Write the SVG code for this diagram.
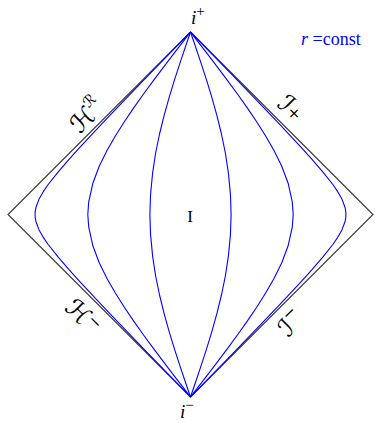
<svg xmlns="http://www.w3.org/2000/svg" width="385" height="423" viewBox="0 0 385 423">
<style>
.edge{fill:none;stroke:#333;stroke-width:1.1}
.rc{fill:none;stroke:#0000ff;stroke-width:1.1;stroke-linejoin:round}
.lab{font-family:"Liberation Serif","DejaVu Serif",serif;fill:#000}
.blue{font-family:"Liberation Serif","DejaVu Serif",serif;fill:#0000ff}
.cal{font-family:"DejaVu Serif","DejaVu Sans",serif;fill:#000}
</style>
<rect width="385" height="423" fill="#fff"/>
<g id="diamond">
<polygon class="edge" points="190.5,32 373,214.5 190.5,397 8,214.5"/>
</g>
<g id="connectors">
<polyline class="rc" points="190.5,397 186.3,384.74 180.45,367.36 174.74,349.83 169.3,332.04 164.2,313.9 159.6,295.25 155.63,275.99 152.59,255.8 150.56,234.59 149.9,214.5 150.56,194.41 152.59,173.2 155.63,153.01 159.6,133.75 164.2,115.1 169.3,96.96 174.74,79.17 180.45,61.64 186.3,44.26 190.5,32"/>
<polyline class="rc" points="190.5,397 194.7,384.74 200.55,367.36 206.26,349.83 211.7,332.04 216.8,313.9 221.4,295.25 225.37,275.99 228.41,255.8 230.44,234.59 231.1,214.5 230.44,194.41 228.41,173.2 225.37,153.01 221.4,133.75 216.8,115.1 211.7,96.96 206.26,79.17 200.55,61.64 194.7,44.26 190.5,32"/>
<polyline class="rc" points="190.5,397 183.33,387.71 173.22,374.58 163.17,361.4 153.2,348.13 143.37,334.72 133.72,321.14 124.34,307.28 115.34,293.05 106.87,278.28 99.22,262.69 92.87,245.81 88.68,226.77 87.8,214.5 88.68,202.23 92.87,183.19 99.22,166.31 106.87,150.72 115.34,135.95 124.34,121.72 133.72,107.86 143.37,94.28 153.2,80.87 163.17,67.6 173.22,54.42 183.33,41.29 190.5,32"/>
<polyline class="rc" points="190.5,397 197.67,387.71 207.78,374.58 217.83,361.4 227.8,348.13 237.63,334.72 247.28,321.14 256.66,307.28 265.66,293.05 274.13,278.28 281.78,262.69 288.13,245.81 292.32,226.77 293.2,214.5 292.32,202.23 288.13,183.19 281.78,166.31 274.13,150.72 265.66,135.95 256.66,121.72 247.28,107.86 237.63,94.28 227.8,80.87 217.83,67.6 207.78,54.42 197.67,41.29 190.5,32"/>
<polyline class="rc" points="190.5,397 170.93,376.87 148.03,353.3 125.2,329.66 102.49,305.9 80.03,281.88 69,269.67 58.24,257.21 47.99,244.22 43.27,237.32 39.07,229.91 35.92,221.44 35.22,217.49 35.07,214.5 35.22,211.51 35.92,207.56 39.07,199.09 43.27,191.68 47.99,184.78 58.24,171.79 69,159.33 80.03,147.12 102.49,123.1 125.2,99.34 148.03,75.7 170.93,52.13 190.5,32"/>
<polyline class="rc" points="190.5,397 210.07,376.87 232.97,353.3 255.8,329.66 278.51,305.9 300.97,281.88 312,269.67 322.76,257.21 333.01,244.22 337.73,237.32 341.93,229.91 345.08,221.44 345.78,217.49 345.93,214.5 345.78,211.51 345.08,207.56 341.93,199.09 337.73,191.68 333.01,184.78 322.76,171.79 312,159.33 300.97,147.12 278.51,123.1 255.8,99.34 232.97,75.7 210.07,52.13 190.5,32"/>
</g>
<g id="label-iplus"><text class="lab" x="191" y="24" font-size="19" font-style="italic">i<tspan dy="-8" font-size="15" font-style="normal">+</tspan></text></g>
<g id="label-iminus"><text class="lab" x="180" y="418" font-size="19" font-style="italic">i<tspan dy="-8" font-size="15" font-style="normal">−</tspan></text></g>
<g id="label-HR" transform="translate(82,121) rotate(-45)"><text class="cal" x="-11" y="8" font-size="25">ℋ<tspan dy="-12" font-size="15">ℛ</tspan></text></g>
<g id="label-Iplus" transform="translate(288,106) rotate(45)"><text class="cal" x="-9" y="8" font-size="25">ℐ<tspan dy="-2" font-size="16">+</tspan></text></g>
<g id="label-Hminus" transform="translate(77,311) rotate(45)"><text class="cal" x="-11" y="8" font-size="25">ℋ<tspan dy="-8" font-size="16">−</tspan></text></g>
<g id="label-Iminus" transform="translate(289,326) rotate(-45)"><text class="cal" x="-9" y="8" font-size="25">ℐ<tspan dy="-12" font-size="16">−</tspan></text></g>
<g id="label-rconst"><text class="blue" x="301" y="45" font-size="18"><tspan font-style="italic">r</tspan> =const</text></g>
<g id="label-I"><text class="lab" x="190" y="222" font-size="17" text-anchor="middle">I</text></g>
</svg>
